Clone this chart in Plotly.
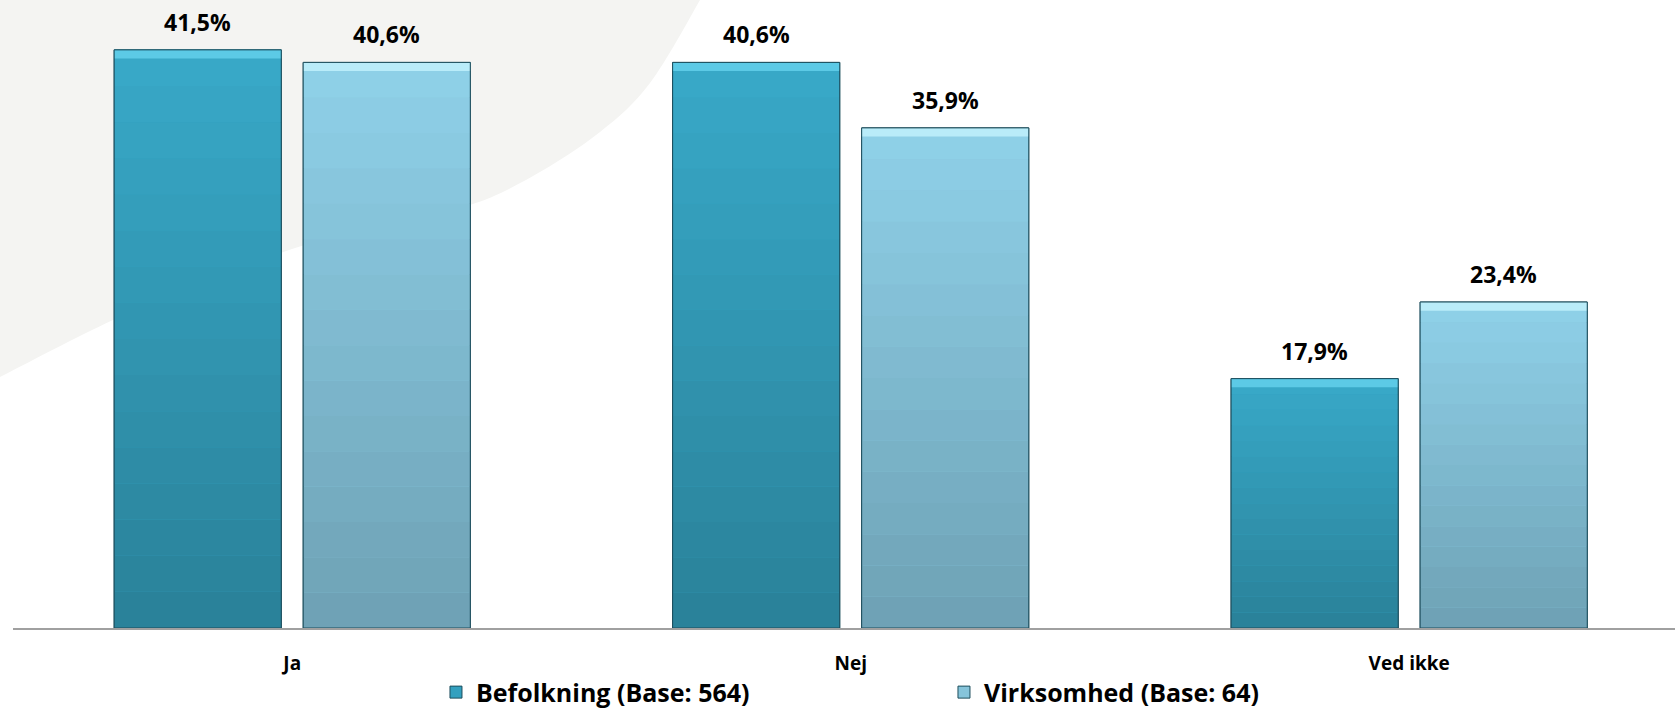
"""Grouped bar chart: Befolkning vs Virksomhed (Ja / Nej / Ved ikke)."""

import plotly.graph_objects as go

categories = ["Ja", "Nej", "Ved ikke"]
befolkning = [41.5, 40.6, 17.9]
virksomhed = [40.6, 35.9, 23.4]
series_names = ["Befolkning (Base: 564)", "Virksomhed (Base: 64)"]

W, H = 1675, 708
M_L, M_B = 13, 80
PLOT_W, PLOT_H = W - M_L, H - M_B

# colour ramps (bottom, top), bevel strip, legend swatch
styles = {
    "bef": dict(bottom=(42, 129, 152), top=(56, 169, 201), bevel="#5ccae6", mid="#33a0bf"),
    "virk": dict(bottom=(110, 161, 180), top=(143, 209, 233), bevel="#b9ecf9", mid="#86c4da"),
}
N_SEG = 16
BEVEL = 0.62
FONT = "Open Sans"


def lerp(c0, c1, t):
    return "rgb(%d,%d,%d)" % tuple(round(a + (b - a) * t) for a, b in zip(c0, c1))


def fmt(v):
    return f"{v:.1f}".replace(".", ",") + "%"


fig = go.Figure()

for key, name, vals in [("bef", series_names[0], befolkning), ("virk", series_names[1], virksomhed)]:
    st = styles[key]
    # full bar (gives the legend swatch)
    fig.add_trace(go.Bar(
        x=categories, y=vals, name=name, offsetgroup=key,
        marker=dict(color=st["mid"], line=dict(color="#1d4d5c", width=1)),
        hoverinfo="skip",
    ))
    # vertical gradient made of stacked slices
    for k in range(N_SEG):
        t = (k + 0.5) / N_SEG
        fig.add_trace(go.Bar(
            x=categories, y=[v / N_SEG for v in vals], base=[v * k / N_SEG for v in vals],
            offsetgroup=key, showlegend=False, hoverinfo="skip",
            marker=dict(color=lerp(st["bottom"], st["top"], t), line=dict(width=0)),
        ))
    # light bevel along the top
    fig.add_trace(go.Bar(
        x=categories, y=[BEVEL] * len(vals), base=[v - BEVEL for v in vals],
        offsetgroup=key, showlegend=False, hoverinfo="skip",
        marker=dict(color=st["bevel"], line=dict(width=0)),
    ))
    # outline on top
    fig.add_trace(go.Bar(
        x=categories, y=vals, offsetgroup=key, showlegend=False, hoverinfo="skip",
        marker=dict(color="rgba(0,0,0,0)", line=dict(color="#1d4d5c", width=1)),
    ))

# value labels above bars
slot = 94.5
for shift, vals in [(-slot, befolkning), (slot, virksomhed)]:
    for c, v in zip(categories, vals):
        fig.add_annotation(
            x=c, y=v, text=fmt(v), showarrow=False, xshift=shift, yshift=28,
            yanchor="middle", font=dict(family=FONT, size=23, color="#000000", weight="bold"),
        )

# grey background arc in the top-left corner (smooth curve through edge points, pixels)
edge = [(-20, 388), (0, 377), (113, 320), (200, 284), (292, 249), (380, 226), (470, 205),
        (533, 176), (600, 132), (650, 83), (700, 0), (715, -30)]


def to_paper(px, py):
    return (px - M_L) / PLOT_W, (PLOT_H - py) / PLOT_H


def smooth_path(points):
    segs = []
    for i in range(1, len(points) - 2):
        p0, p1, p2, p3 = points[i - 1], points[i], points[i + 1], points[i + 2]
        c1 = (p1[0] + (p2[0] - p0[0]) / 6, p1[1] + (p2[1] - p0[1]) / 6)
        c2 = (p2[0] - (p3[0] - p1[0]) / 6, p2[1] - (p3[1] - p1[1]) / 6)
        segs.append("C " + " ".join("%.5f,%.5f" % to_paper(x, y) for x, y in (c1, c2, p2)))
    return segs


path = ("M %.5f,%.5f " % to_paper(-5, -5)
        + "L %.5f,%.5f " % to_paper(-5, 377)
        + "L %.5f,%.5f " % to_paper(*edge[1])
        + " ".join(smooth_path(edge))
        + " L %.5f,%.5f Z" % to_paper(700, -5))
fig.add_shape(type="path", path=path, xref="paper", yref="paper", layer="below",
              fillcolor="#f4f4f2", line=dict(width=0))

fig.update_layout(
    width=W, height=H,
    margin=dict(l=M_L, r=0, t=0, b=M_B, autoexpand=False),
    paper_bgcolor="#ffffff", plot_bgcolor="rgba(0,0,0,0)",
    barmode="group", bargap=0.323, bargroupgap=0.116,
    xaxis=dict(
        range=[-0.5, 2.476], showline=True, linecolor="#a0a0a0", linewidth=2,
        showgrid=False, zeroline=False, ticks="", ticklabelstandoff=17, automargin=False,
        tickfont=dict(family=FONT, size=19, color="#000000", weight="bold"),
    ),
    yaxis=dict(range=[0, 45.08], visible=False),
    legend=dict(
        orientation="h", x=0.2545, xanchor="left", y=-0.1025, yanchor="middle",
        entrywidth=463, entrywidthmode="pixels",
        font=dict(family=FONT, size=25, color="#000000", weight="bold"),
        bgcolor="rgba(0,0,0,0)",
    ),
    showlegend=True,
)

fig.write_html("out.html", config={"displayModeBar": False},
               post_script="document.body.style.margin='0';")
